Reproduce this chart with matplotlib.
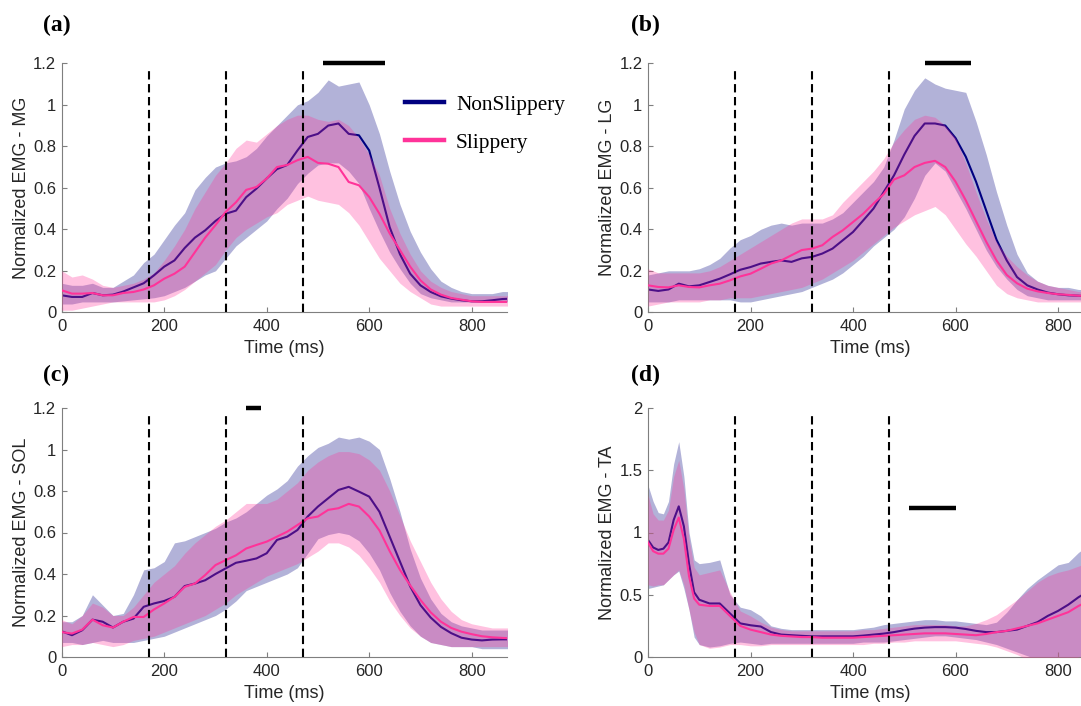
import matplotlib
matplotlib.use("Agg")
import matplotlib.pyplot as plt
from matplotlib.lines import Line2D

# ---------------------------------------------------------------- data
# sample times (ms) for MG, LG and SOL; TA has a finer start around its early burst
time_ms = [0, 20, 40, 60, 80, 100, 120, 140, 160, 180,
           200, 220, 240, 260, 280, 300, 320, 340, 360, 380,
           400, 420, 440, 460, 480, 500, 520, 540, 560, 580,
           600, 620, 640, 660, 680, 700, 720, 740, 760, 780,
           800, 820, 840, 860, 880]
time_ta = [0, 10, 20, 30, 40, 50, 60, 70, 80, 90, 100,
           120, 140, 160, 180, 200, 220, 240, 260, 280, 300,
           320, 340, 360, 380, 400, 420, 440, 460, 480, 500,
           520, 540, 560, 580, 600, 620, 640, 660, 680, 700,
           720, 740, 760, 780, 800, 820, 840, 860, 880]

# (a) medial gastrocnemius
mg_non_mean = [0.082, 0.074, 0.074, 0.093, 0.082, 0.085, 0.100, 0.120, 0.140, 0.178,
               0.220, 0.250, 0.310, 0.360, 0.395, 0.440, 0.475, 0.490, 0.555, 0.596,
               0.645, 0.690, 0.710, 0.780, 0.845, 0.860, 0.900, 0.910, 0.860, 0.853,
               0.780, 0.600, 0.410, 0.280, 0.186, 0.130, 0.098, 0.077, 0.066, 0.058,
               0.053, 0.053, 0.058, 0.064, 0.066]
mg_non_lo = [0.04, 0.04, 0.05, 0.05, 0.05, 0.05, 0.055, 0.06, 0.065, 0.07,
             0.08, 0.10, 0.12, 0.15, 0.18, 0.20, 0.26, 0.32, 0.36, 0.40,
             0.44, 0.50, 0.55, 0.62, 0.67, 0.71, 0.72, 0.72, 0.68, 0.62,
             0.50, 0.39, 0.29, 0.21, 0.14, 0.09, 0.07, 0.06, 0.05, 0.05,
             0.05, 0.05, 0.05, 0.05, 0.05]
mg_non_hi = [0.14, 0.13, 0.13, 0.14, 0.12, 0.12, 0.15, 0.18, 0.24, 0.28,
             0.35, 0.42, 0.48, 0.59, 0.65, 0.70, 0.72, 0.73, 0.75, 0.79,
             0.85, 0.90, 0.95, 1.00, 1.02, 1.06, 1.12, 1.09, 1.10, 1.11,
             1.00, 0.86, 0.68, 0.52, 0.39, 0.29, 0.21, 0.15, 0.12, 0.10,
             0.09, 0.09, 0.09, 0.10, 0.10]
mg_slip_mean = [0.106, 0.090, 0.090, 0.093, 0.082, 0.082, 0.093, 0.098, 0.110, 0.130,
                0.162, 0.186, 0.220, 0.290, 0.360, 0.420, 0.484, 0.530, 0.590, 0.604,
                0.645, 0.700, 0.710, 0.733, 0.749, 0.720, 0.716, 0.700, 0.628, 0.612,
                0.556, 0.475, 0.380, 0.300, 0.220, 0.154, 0.110, 0.085, 0.069, 0.061,
                0.053, 0.050, 0.050, 0.050, 0.050]
mg_slip_lo = [0.01, 0.01, 0.02, 0.03, 0.04, 0.05, 0.05, 0.05, 0.05, 0.05,
              0.06, 0.08, 0.11, 0.15, 0.19, 0.23, 0.30, 0.36, 0.40, 0.43,
              0.46, 0.48, 0.52, 0.54, 0.56, 0.54, 0.53, 0.52, 0.48, 0.42,
              0.34, 0.26, 0.20, 0.14, 0.10, 0.07, 0.04, 0.03, 0.03, 0.03,
              0.03, 0.03, 0.03, 0.03, 0.03]
mg_slip_hi = [0.20, 0.17, 0.18, 0.16, 0.13, 0.12, 0.13, 0.14, 0.16, 0.19,
              0.25, 0.32, 0.40, 0.50, 0.58, 0.66, 0.72, 0.79, 0.83, 0.82,
              0.86, 0.90, 0.93, 0.95, 0.95, 0.93, 0.92, 0.93, 0.90, 0.84,
              0.76, 0.66, 0.50, 0.38, 0.28, 0.20, 0.15, 0.12, 0.10, 0.09,
              0.08, 0.08, 0.08, 0.08, 0.08]

# (b) lateral gastrocnemius
lg_non_mean = [0.110, 0.103, 0.110, 0.138, 0.125, 0.130, 0.146, 0.162, 0.183, 0.205,
               0.218, 0.235, 0.243, 0.250, 0.243, 0.260, 0.267, 0.283, 0.307, 0.347,
               0.387, 0.443, 0.500, 0.580, 0.660, 0.760, 0.850, 0.910, 0.910, 0.900,
               0.840, 0.750, 0.630, 0.490, 0.350, 0.250, 0.170, 0.130, 0.110, 0.095,
               0.087, 0.082, 0.080, 0.077, 0.077]
lg_non_lo = [0.05, 0.05, 0.05, 0.06, 0.06, 0.06, 0.06, 0.06, 0.06, 0.05,
             0.05, 0.06, 0.07, 0.08, 0.09, 0.10, 0.12, 0.14, 0.16, 0.19,
             0.23, 0.27, 0.32, 0.36, 0.40, 0.46, 0.55, 0.66, 0.72, 0.68,
             0.59, 0.50, 0.40, 0.30, 0.22, 0.16, 0.11, 0.08, 0.07, 0.06,
             0.06, 0.06, 0.06, 0.06, 0.06]
lg_non_hi = [0.18, 0.19, 0.20, 0.20, 0.20, 0.21, 0.23, 0.26, 0.31, 0.35,
             0.37, 0.40, 0.42, 0.43, 0.42, 0.43, 0.43, 0.43, 0.45, 0.48,
             0.53, 0.58, 0.63, 0.70, 0.83, 0.98, 1.07, 1.13, 1.10, 1.08,
             1.07, 1.06, 0.92, 0.76, 0.58, 0.42, 0.28, 0.19, 0.15, 0.13,
             0.12, 0.12, 0.11, 0.11, 0.11]
lg_slip_mean = [0.130, 0.122, 0.120, 0.130, 0.122, 0.120, 0.130, 0.138, 0.154, 0.173,
                0.186, 0.210, 0.235, 0.250, 0.275, 0.300, 0.307, 0.323, 0.363, 0.395,
                0.435, 0.475, 0.524, 0.570, 0.640, 0.660, 0.700, 0.720, 0.730, 0.700,
                0.630, 0.540, 0.440, 0.340, 0.250, 0.180, 0.140, 0.114, 0.101, 0.093,
                0.087, 0.084, 0.080, 0.079, 0.078]
lg_slip_lo = [0.03, 0.04, 0.05, 0.05, 0.05, 0.05, 0.06, 0.06, 0.07, 0.07,
              0.07, 0.08, 0.09, 0.10, 0.11, 0.12, 0.14, 0.16, 0.19, 0.22,
              0.25, 0.29, 0.33, 0.37, 0.41, 0.44, 0.47, 0.49, 0.51, 0.47,
              0.40, 0.33, 0.27, 0.20, 0.13, 0.09, 0.07, 0.06, 0.05, 0.05,
              0.05, 0.05, 0.05, 0.05, 0.05]
lg_slip_hi = [0.21, 0.19, 0.19, 0.19, 0.19, 0.19, 0.20, 0.22, 0.25, 0.28,
              0.31, 0.34, 0.37, 0.40, 0.43, 0.45, 0.45, 0.45, 0.47, 0.53,
              0.58, 0.63, 0.68, 0.74, 0.82, 0.88, 0.93, 0.95, 0.94, 0.90,
              0.84, 0.72, 0.58, 0.45, 0.34, 0.27, 0.22, 0.18, 0.15, 0.13,
              0.12, 0.11, 0.10, 0.10, 0.10]

# (c) soleus
sol_non_mean = [0.124, 0.105, 0.129, 0.180, 0.170, 0.142, 0.170, 0.185, 0.242, 0.258,
                0.270, 0.290, 0.342, 0.354, 0.370, 0.400, 0.427, 0.454, 0.464, 0.475,
                0.500, 0.564, 0.580, 0.612, 0.677, 0.725, 0.765, 0.805, 0.820, 0.797,
                0.773, 0.700, 0.580, 0.460, 0.340, 0.250, 0.190, 0.145, 0.115, 0.093,
                0.084, 0.080, 0.084, 0.085, 0.085]
sol_non_lo = [0.07, 0.07, 0.06, 0.07, 0.08, 0.07, 0.07, 0.07, 0.08, 0.09,
              0.10, 0.12, 0.14, 0.16, 0.18, 0.20, 0.23, 0.27, 0.32, 0.34,
              0.36, 0.38, 0.40, 0.43, 0.50, 0.57, 0.59, 0.60, 0.59, 0.56,
              0.50, 0.42, 0.31, 0.22, 0.15, 0.10, 0.07, 0.06, 0.05, 0.05,
              0.05, 0.04, 0.04, 0.04, 0.04]
sol_non_hi = [0.17, 0.17, 0.20, 0.30, 0.25, 0.20, 0.21, 0.30, 0.42, 0.43,
              0.46, 0.55, 0.56, 0.58, 0.60, 0.62, 0.65, 0.67, 0.70, 0.74,
              0.78, 0.81, 0.85, 0.92, 0.97, 1.01, 1.03, 1.06, 1.05, 1.06,
              1.04, 1.00, 0.86, 0.70, 0.52, 0.38, 0.28, 0.21, 0.17, 0.15,
              0.14, 0.13, 0.13, 0.13, 0.13]
sol_slip_mean = [0.120, 0.113, 0.132, 0.180, 0.153, 0.142, 0.170, 0.193, 0.193, 0.229,
                 0.258, 0.290, 0.338, 0.354, 0.395, 0.443, 0.467, 0.490, 0.523, 0.540,
                 0.556, 0.580, 0.604, 0.636, 0.668, 0.677, 0.709, 0.717, 0.738, 0.725,
                 0.677, 0.610, 0.510, 0.420, 0.345, 0.275, 0.215, 0.170, 0.140, 0.122,
                 0.110, 0.100, 0.095, 0.092, 0.090]
sol_slip_lo = [0.05, 0.06, 0.06, 0.07, 0.06, 0.05, 0.06, 0.08, 0.09, 0.10,
               0.12, 0.14, 0.16, 0.18, 0.20, 0.23, 0.26, 0.30, 0.33, 0.36,
               0.39, 0.41, 0.43, 0.45, 0.48, 0.51, 0.55, 0.55, 0.53, 0.49,
               0.43, 0.36, 0.27, 0.20, 0.14, 0.10, 0.07, 0.06, 0.05, 0.05,
               0.05, 0.05, 0.05, 0.05, 0.05]
sol_slip_hi = [0.18, 0.16, 0.20, 0.26, 0.24, 0.20, 0.20, 0.24, 0.30, 0.36,
               0.40, 0.44, 0.50, 0.55, 0.59, 0.63, 0.66, 0.70, 0.74, 0.74,
               0.74, 0.76, 0.80, 0.84, 0.90, 0.94, 0.97, 0.99, 0.99, 0.98,
               0.95, 0.90, 0.80, 0.68, 0.56, 0.46, 0.36, 0.28, 0.22, 0.18,
               0.16, 0.15, 0.14, 0.14, 0.14]

# (d) tibialis anterior
ta_non_mean = [0.94, 0.88, 0.86, 0.87, 0.92, 1.10, 1.21, 1.05, 0.75, 0.52, 0.46,
               0.43, 0.43, 0.35, 0.27, 0.255, 0.245, 0.20, 0.18, 0.175, 0.17,
               0.166, 0.166, 0.166, 0.166, 0.166, 0.172, 0.18, 0.188, 0.20, 0.215,
               0.228, 0.236, 0.24, 0.24, 0.236, 0.225, 0.21, 0.20, 0.20, 0.21,
               0.22, 0.25, 0.28, 0.33, 0.37, 0.42, 0.48, 0.53, 0.57]
ta_non_lo = [0.55, 0.56, 0.57, 0.58, 0.62, 0.66, 0.69, 0.55, 0.38, 0.16, 0.10,
             0.08, 0.09, 0.11, 0.12, 0.11, 0.10, 0.11, 0.11, 0.11, 0.11,
             0.11, 0.11, 0.11, 0.11, 0.11, 0.12, 0.12, 0.12, 0.13, 0.14,
             0.15, 0.16, 0.17, 0.17, 0.16, 0.15, 0.14, 0.12, 0.10, 0.07,
             0.04, 0.01, -0.02, -0.04, -0.05, -0.03, 0.00, 0.02, 0.03]
ta_non_hi = [1.38, 1.25, 1.16, 1.15, 1.25, 1.55, 1.73, 1.45, 1.00, 0.78, 0.75,
             0.76, 0.78, 0.50, 0.40, 0.38, 0.33, 0.25, 0.23, 0.22, 0.22,
             0.22, 0.22, 0.22, 0.22, 0.22, 0.23, 0.24, 0.26, 0.27, 0.28,
             0.29, 0.30, 0.30, 0.29, 0.29, 0.28, 0.27, 0.26, 0.28, 0.36,
             0.46, 0.55, 0.62, 0.68, 0.74, 0.76, 0.84, 0.90, 0.94]
ta_slip_mean = [0.92, 0.85, 0.83, 0.83, 0.87, 1.02, 1.12, 0.95, 0.65, 0.47, 0.42,
                0.41, 0.41, 0.33, 0.25, 0.22, 0.20, 0.18, 0.17, 0.165, 0.16,
                0.16, 0.155, 0.155, 0.155, 0.155, 0.16, 0.165, 0.17, 0.175, 0.18,
                0.185, 0.19, 0.19, 0.19, 0.185, 0.18, 0.175, 0.185, 0.20, 0.21,
                0.23, 0.25, 0.27, 0.30, 0.33, 0.36, 0.41, 0.45, 0.48]
ta_slip_lo = [0.58, 0.57, 0.58, 0.58, 0.62, 0.66, 0.70, 0.58, 0.38, 0.20, 0.10,
              0.07, 0.08, 0.10, 0.10, 0.09, 0.09, 0.10, 0.10, 0.10, 0.10,
              0.10, 0.10, 0.10, 0.10, 0.10, 0.10, 0.11, 0.11, 0.12, 0.12,
              0.13, 0.13, 0.13, 0.13, 0.13, 0.12, 0.11, 0.10, 0.08, 0.05,
              0.02, -0.02, -0.05, -0.05, -0.04, -0.03, 0.00, 0.02, 0.04]
ta_slip_hi = [1.30, 1.15, 1.10, 1.10, 1.18, 1.45, 1.58, 1.35, 0.95, 0.72, 0.66,
              0.68, 0.70, 0.52, 0.37, 0.33, 0.28, 0.24, 0.22, 0.21, 0.21,
              0.21, 0.21, 0.21, 0.21, 0.21, 0.22, 0.22, 0.23, 0.24, 0.25,
              0.26, 0.26, 0.26, 0.26, 0.25, 0.25, 0.27, 0.30, 0.34, 0.40,
              0.46, 0.53, 0.60, 0.65, 0.68, 0.70, 0.73, 0.76, 0.78]

# gait event markers (ms) and significant-difference windows
event_ms = [170, 320, 470]
sig_mg = [510, 630]
sig_lg = [540, 630]
sig_sol = [360, 388]
sig_ta = [510, 600]

labels = ["NonSlippery", "Slippery"]
xticks = [0, 200, 400, 600, 800]
yticks_emg = [0, 0.2, 0.4, 0.6, 0.8, 1, 1.2]
yticks_ta = [0, 0.5, 1, 1.5, 2]

# ---------------------------------------------------------------- style
NAVY = "#000080"
PINK = "#ff3399"
SPINE = "#7f7f7f"
TXT = "#262626"
SANS = ["Liberation Sans", "DejaVu Sans"]
SERIF = ["Liberation Serif", "DejaVu Serif"]

plt.rcParams["font.family"] = SANS

fig = plt.figure(figsize=(10.81, 7.06), dpi=100)
W, H = 1081.0, 706.0
PX_PER_MS = 0.5125
X_MAX = 868


def make_axes(left_px, top_px, bottom_px):
    width_px = X_MAX * PX_PER_MS
    return fig.add_axes([left_px / W, 1 - bottom_px / H,
                         width_px / W, (bottom_px - top_px) / H])


def draw_panel(ax, t, non_m, non_lo, non_hi, sl_m, sl_lo, sl_hi,
               ylabel, ylim, yticks, sig, sig_y):
    ax.fill_between(t, non_lo, non_hi, color=NAVY, alpha=0.3, lw=0, zorder=1)
    ax.plot(t, non_m, color=NAVY, lw=1.5, zorder=2)
    ax.fill_between(t, sl_lo, sl_hi, color=PINK, alpha=0.3, lw=0, zorder=3)
    ax.plot(t, sl_m, color=PINK, lw=1.5, zorder=4)
    for ev in event_ms:
        ax.axvline(ev, ymin=0, ymax=0.972, color="black", lw=1.5,
                   linestyle=(0, (4, 2.2)), zorder=5)
    ax.plot(sig, [sig_y, sig_y], color="black", lw=3.2,
            solid_capstyle="butt", clip_on=False, zorder=6)

    ax.set_xlim(0, X_MAX)
    ax.set_ylim(*ylim)
    ax.set_xticks(xticks)
    ax.set_yticks(yticks)
    ax.set_yticklabels([f"{v:g}" for v in yticks])
    for side in ("top", "right"):
        ax.spines[side].set_visible(False)
    for side in ("left", "bottom"):
        ax.spines[side].set_color(SPINE)
        ax.spines[side].set_linewidth(0.8)
    ax.tick_params(direction="in", length=3.5, width=0.8, color=SPINE,
                   labelcolor=TXT, labelsize=12)
    ax.tick_params(axis="x", pad=5)
    ax.tick_params(axis="y", pad=4)
    ax.set_xlabel("Time (ms)", fontsize=13, color=TXT)
    ax.set_ylabel(ylabel, fontsize=13, color=TXT)
    ax.xaxis.set_label_coords(0.5, -0.112)
    ax.yaxis.set_label_coords(-0.071, 0.5)
    ax.patch.set_alpha(0)


ax_a = make_axes(61.7, 63.3, 312.3)
ax_b = make_axes(648, 63.3, 312.3)
ax_c = make_axes(61.7, 408, 657)
ax_d = make_axes(648, 408, 657)

draw_panel(ax_a, time_ms, mg_non_mean, mg_non_lo, mg_non_hi,
           mg_slip_mean, mg_slip_lo, mg_slip_hi,
           "Normalized EMG - MG", (0, 1.2), yticks_emg, sig_mg, 1.2)
draw_panel(ax_b, time_ms, lg_non_mean, lg_non_lo, lg_non_hi,
           lg_slip_mean, lg_slip_lo, lg_slip_hi,
           "Normalized EMG - LG", (0, 1.2), yticks_emg, sig_lg, 1.2)
draw_panel(ax_c, time_ms, sol_non_mean, sol_non_lo, sol_non_hi,
           sol_slip_mean, sol_slip_lo, sol_slip_hi,
           "Normalized EMG - SOL", (0, 1.2), yticks_emg, sig_sol, 1.2)
draw_panel(ax_d, time_ta, ta_non_mean, ta_non_lo, ta_non_hi,
           ta_slip_mean, ta_slip_lo, ta_slip_hi,
           "Normalized EMG - TA", (0, 2), yticks_ta, sig_ta, 1.2)

# legend inside panel (a)
handles = [Line2D([], [], color=NAVY, lw=3.2),
           Line2D([], [], color=PINK, lw=3.2)]
leg = ax_a.legend(handles, labels, loc="upper left",
                  bbox_to_anchor=(0.772, 0.873), frameon=False,
                  prop={"family": SERIF, "size": 15.3},
                  handlelength=1.85, handletextpad=0.55, labelspacing=0.84,
                  borderaxespad=0, borderpad=0)
for txt in leg.get_texts():
    txt.set_color("black")

# panel letters
for letter, (xp, yp) in {"(a)": (57, 25), "(b)": (645, 25),
                         "(c)": (56, 375), "(d)": (645, 375)}.items():
    fig.text(xp / W, 1 - yp / H, letter, ha="center", va="center",
             fontsize=17, fontweight="bold", family=SERIF, color="black")

fig.savefig("out.png", dpi=100)
